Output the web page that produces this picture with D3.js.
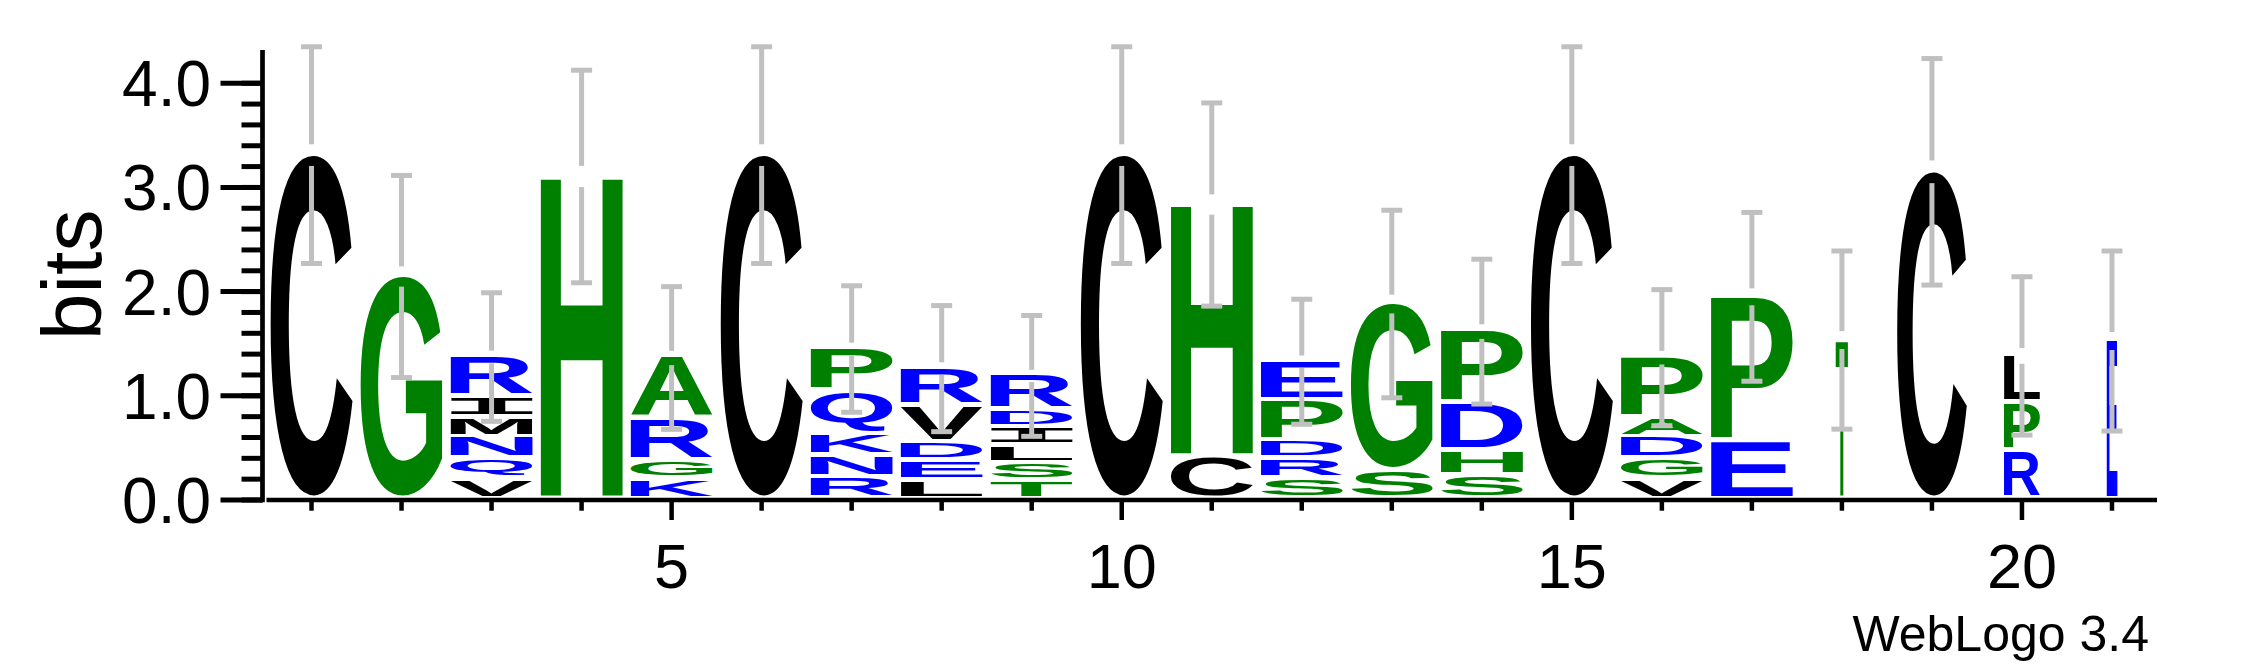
<!DOCTYPE html>
<html><head><meta charset="utf-8">
<script src="https://cdn.jsdelivr.net/npm/d3@7"></script>
<style>html,body{margin:0;padding:0;background:#fff;} svg{display:block;}</style>
</head><body>
<svg id="chart" width="2250" height="667"></svg>
<script>
// ---- data ----
const positions = [1,2,3,4,5,6,7,8,9,10,11,12,13,14,15,16,17,18,19,20,21];
// letters of each stack, top to bottom
const stackLetters = [
  ["C"], ["G"], ["R","I","M","N","Q","V"], ["H"], ["A","R","G","K"], ["C"],
  ["P","Q","K","N","R"], ["R","V","D","E","L"], ["R","D","I","L","S","T"], ["C"],
  ["H","C"], ["E","P","D","R","S"], ["G","S"], ["P","D","H","S"], ["C"],
  ["P","A","D","G","V"], ["P","E"], ["T"], ["C"], ["L","P","R"], ["E"]
];
// heights in bits, same order
const stackBits = [
  [3.31], [2.145], [0.393,0.192,0.192,0.211,0.192,0.192], [3.105], [0.595,0.403,0.173,0.192], [3.31],
  [0.41,0.415,0.208,0.208,0.208], [0.362,0.352,0.18,0.185,0.182], [0.336,0.166,0.177,0.169,0.167,0.176], [3.31],
  [2.43,0.406], [0.377,0.384,0.182,0.192,0.192], [1.609,0.272], [0.694,0.458,0.24,0.224], [3.31],
  [0.582,0.192,0.208,0.192,0.192], [1.39,0.56], [1.535], [3.15], [0.461,0.458,0.464], [1.526]
];
// relative stack width (occupancy)
const stackWidths = [1,1,1,1,1,1,1,1,1,1,1,1,1,1,1,1,1,0.15,0.85,0.44,0.13];
// half length of the error bar, bits
const errorHalf = [1.04,0.97,0.617,1.02,0.685,1.04,0.607,0.605,0.58,1.04,0.975,0.60,0.90,0.695,1.04,0.653,0.81,0.855,1.087,0.76,0.864];
const yTickValues = [0,1,2,3,4];
const yMinorValues = [0,0.2,0.4,0.6,0.8,1,1.2,1.4,1.6,1.8,2,2.2,2.4,2.6,2.8,3,3.2,3.4,3.6,3.8,4];
const xTickLabels = [5,10,15,20];
const yLabel = "bits";
const footer = "WebLogo 3.4";
const maxBits = 4.32;

const letterColors = {
  C:"#000000", I:"#000000", M:"#000000", V:"#000000", L:"#000000",
  G:"#008000", H:"#008000", A:"#008000", P:"#008000", S:"#008000", T:"#008000",
  R:"#0000ff", N:"#0000ff", Q:"#0000ff", K:"#0000ff", D:"#0000ff", E:"#0000ff"
};

// ---- layout ----
const svg = d3.select("#chart");
const x = d3.scaleLinear().domain([0.5, 21.5]).range([266.5, 2157]);
const y = d3.scaleLinear().domain([0, maxBits]).range([500, 49.9]);
const unit = x(2) - x(1);
const fullStack = unit * 0.911;
const glyphGap = 4.5;

// glyph ink measurement
const canvas = document.createElement("canvas");
const ctx = canvas.getContext("2d");
const FS = 200;
function fontFor(L){ return L === "I" ? "'DejaVu Sans Mono'" : "'Liberation Sans', Arial, sans-serif"; }
const metricsCache = {};
function ink(L){
  if (metricsCache[L]) return metricsCache[L];
  ctx.font = `bold ${FS}px ${fontFor(L)}`;
  const m = ctx.measureText(L);
  const r = {left:m.actualBoundingBoxLeft, right:m.actualBoundingBoxRight,
             asc:m.actualBoundingBoxAscent, desc:m.actualBoundingBoxDescent};
  metricsCache[L] = r; return r;
}

// stacks
const gStacks = svg.append("g");
positions.forEach((p, i) => {
  const letters = stackLetters[i], bits = stackBits[i];
  const w = fullStack * stackWidths[i];
  const xl = x(p) - w / 2;
  let cum = 0;
  for (let k = letters.length - 1; k >= 0; k--) {
    const L = letters[k], h = bits[k];
    const yTop = y(cum + h), yBot = y(cum) - glyphGap;
    cum += h;
    const H = yBot - yTop;
    if (H <= 0.5) continue;
    const m = ink(L);
    const sx = w / (m.left + m.right), sy = H / (m.asc + m.desc);
    gStacks.append("text")
      .text(L)
      .attr("font-family", fontFor(L))
      .attr("font-weight", "bold")
      .attr("font-size", FS)
      .attr("fill", letterColors[L])
      .attr("transform", `translate(${xl + m.left * sx},${yTop + m.asc * sy}) scale(${sx},${sy})`);
  }
});

// error bars
const gErr = svg.append("g").attr("stroke", "#c0c0c0").attr("stroke-width", 5).attr("fill", "none");
positions.forEach((p, i) => {
  const total = d3.sum(stackBits[i]);
  const hi = y(total + errorHalf[i]), lo = y(total - errorHalf[i]), c = y(total);
  const half = (lo - hi) / 2, gap = half * 0.1;
  const cx = x(p);
  gErr.append("line").attr("x1", cx).attr("x2", cx).attr("y1", hi).attr("y2", c - gap);
  gErr.append("line").attr("x1", cx).attr("x2", cx).attr("y1", c + gap).attr("y2", lo);
  gErr.append("line").attr("x1", cx - 10.5).attr("x2", cx + 10.5).attr("y1", hi).attr("y2", hi);
  gErr.append("line").attr("x1", cx - 10.5).attr("x2", cx + 10.5).attr("y1", lo).attr("y2", lo);
});

// x axis
const gx = svg.append("g");
gx.append("line").attr("x1", x(0.5)).attr("x2", x(21.5)).attr("y1", y(0)).attr("y2", y(0))
  .attr("stroke", "#000").attr("stroke-width", 4.7);
gx.selectAll("line.tick").data(positions).join("line").attr("class", "tick")
  .attr("x1", d => x(d)).attr("x2", d => x(d))
  .attr("y1", y(0)).attr("y2", d => xTickLabels.includes(d) ? y(0) + 20 : y(0) + 10.7)
  .attr("stroke", "#000").attr("stroke-width", 4.5);
gx.selectAll("text").data(xTickLabels).join("text")
  .attr("x", d => x(d)).attr("y", 588)
  .attr("text-anchor", "middle")
  .attr("font-family", "'Liberation Sans', Arial, sans-serif")
  .attr("font-size", 63)
  .text(d => d);

// y axis
const gy = svg.append("g");
const axisX = 262.5;
gy.append("line").attr("x1", axisX).attr("x2", axisX).attr("y1", y(0) + 2.3).attr("y2", y(maxBits))
  .attr("stroke", "#000").attr("stroke-width", 4.7);
gy.selectAll("line.minor").data(yMinorValues).join("line").attr("class", "minor")
  .attr("x1", axisX - 21).attr("x2", axisX)
  .attr("y1", d => y(d)).attr("y2", d => y(d))
  .attr("stroke", "#000").attr("stroke-width", 5);
gy.selectAll("line.major").data(yTickValues).join("line").attr("class", "major")
  .attr("x1", axisX - 42).attr("x2", axisX)
  .attr("y1", d => y(d)).attr("y2", d => y(d))
  .attr("stroke", "#000").attr("stroke-width", 5);
gy.selectAll("text").data(yTickValues).join("text")
  .attr("x", 211).attr("y", d => y(d) + 23)
  .attr("text-anchor", "end")
  .attr("font-family", "'Liberation Sans', Arial, sans-serif")
  .attr("font-size", 64)
  .text(d => d3.format(".1f")(d));

svg.append("text")
  .attr("transform", `translate(101,${(y(0) + y(maxBits)) / 2}) rotate(-90)`)
  .attr("text-anchor", "middle")
  .attr("font-family", "'Liberation Sans', Arial, sans-serif")
  .attr("font-size", 84)
  .text(yLabel);

svg.append("text")
  .attr("x", 2149).attr("y", 651)
  .attr("text-anchor", "end")
  .attr("font-family", "'Liberation Sans', Arial, sans-serif")
  .attr("font-size", 50)
  .text(footer);
</script>
</body></html>
